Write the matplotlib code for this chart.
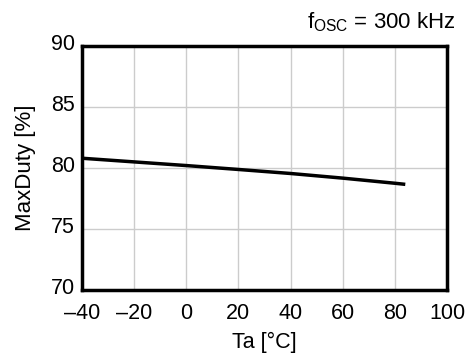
import matplotlib
matplotlib.use('Agg')
import matplotlib.pyplot as plt
import matplotlib.transforms as mtransforms

temps = [-40, -20, 0, 20, 40, 60, 80, 84]
max_duty = [80.8, 80.5, 80.2, 79.88, 79.55, 79.17, 78.75, 78.66]

xticks = [-40, -20, 0, 20, 40, 60, 80, 100]
xticklabels = ['\u201340', '\u201320', '0', '20', '40', '60', '80', '100']
yticks = [70, 75, 80, 85, 90]

plt.rcParams['font.family'] = ['Liberation Sans', 'DejaVu Sans']
plt.rcParams['mathtext.fontset'] = 'custom'
plt.rcParams['mathtext.rm'] = 'Liberation Sans'
plt.rcParams['mathtext.it'] = 'Liberation Sans'

fig = plt.figure(figsize=(4.7, 3.54), dpi=100)
ax = fig.add_axes([82 / 470, 1 - 290 / 354, 365 / 470, 244 / 354])

ax.plot(temps, max_duty, color='black', linewidth=2.5, solid_capstyle='butt')

ax.set_xlim(-40, 100)
ax.set_ylim(70, 90)
ax.set_xticks(xticks)
ax.set_xticklabels(xticklabels)
ax.set_yticks(yticks)
ax.grid(True, color='#cccccc', linewidth=1)
ax.set_axisbelow(True)
ax.tick_params(length=0, labelsize=15.5)
ax.tick_params(axis='x', pad=9.5)
ax.tick_params(axis='y', pad=5)
for s in ax.spines.values():
    s.set_linewidth(2.5)

# y tick labels sit a little above their gridlines in the reference
shift = mtransforms.ScaledTranslation(0, 4 / 100, fig.dpi_scale_trans)
for lab in ax.get_yticklabels():
    lab.set_transform(lab.get_transform() + shift)

ax.set_xlabel('Ta [\u00b0C]', fontsize=15.5, labelpad=5.5)
ax.set_ylabel('MaxDuty [%]', fontsize=16, labelpad=11)

fig.text(456 / 470, 1 - 28 / 354, r'$\mathrm{f_{OSC}}$ = 300 kHz', fontsize=16,
         ha='right', va='baseline')

fig.savefig('out.png', dpi=100)
